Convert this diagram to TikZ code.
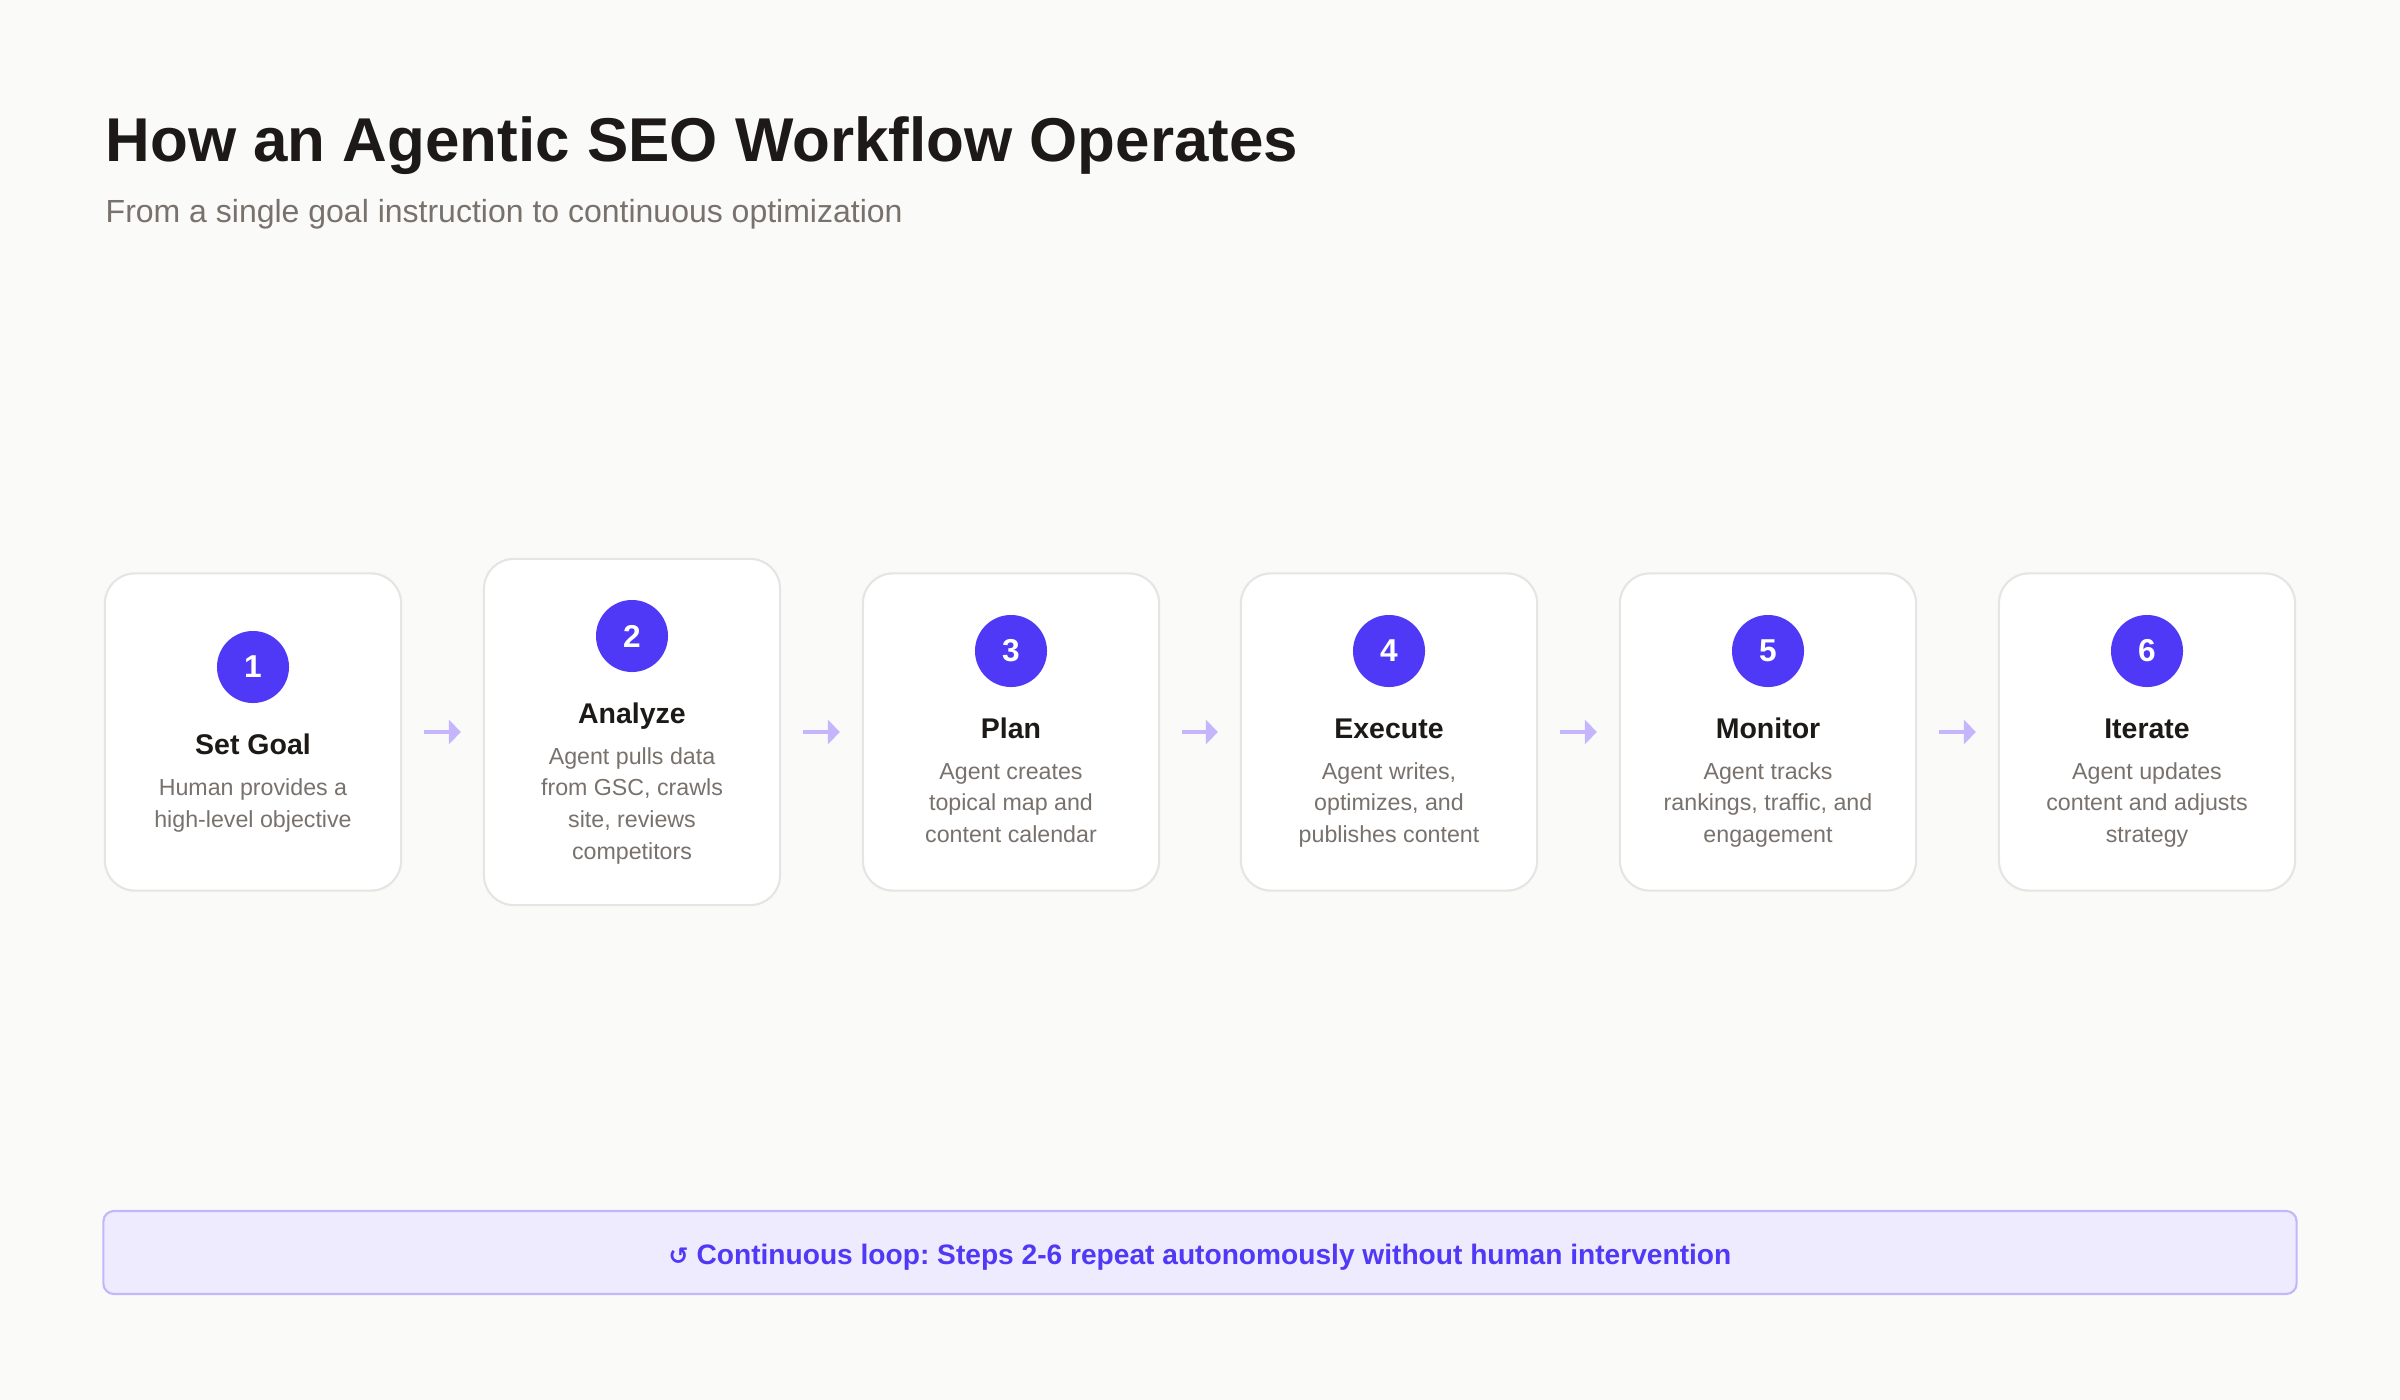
\documentclass[tikz,border=0pt]{standalone}
\usepackage{fontspec}
\setmainfont{Liberation Sans}
\newfontfamily\symfont{DejaVu Sans}
\usetikzlibrary{arrows.meta}
\frenchspacing

\definecolor{bgcolor}{HTML}{FAFAF9}
\definecolor{boxline}{HTML}{E7E5E4}
\definecolor{indigo}{HTML}{4F39F6}
\definecolor{darktext}{HTML}{1C1917}
\definecolor{greytext}{HTML}{78716C}
\definecolor{arrowcol}{HTML}{C4B5FD}
\definecolor{loopfill}{HTML}{EEEBFE}

\begin{document}
\begin{tikzpicture}[x=0.01cm, y=-0.01cm,
  stepbox/.style={draw=boxline, line width=0.6pt, fill=white, rounded corners=8.5pt,
    minimum width=2.96cm, inner sep=0pt},
  stepnum/.style={circle, fill=indigo, text=white, minimum size=0.72cm, inner sep=0pt,
    font=\fontsize{9}{9}\selectfont\bfseries},
  steptitle/.style={anchor=base, text=darktext, font=\fontsize{8.1}{9}\selectfont\bfseries},
  stepdesc/.style={anchor=base, align=center, text=greytext, inner sep=0pt,
    font=\fontsize{6.6}{9}\selectfont},
  flow/.style={draw=arrowcol, line width=1.15pt, shorten <=0.22cm, shorten >=0.22cm,
    -{Triangle[length=3.4pt, width=6.8pt]}}]
  % Parameters
  \def\midy{732}      % Middle line of the steps
  \def\boxht{3.17cm}  % Usual box height
  % Canvas
  \useasboundingbox (0,0) rectangle (2400,1400);
  \fill[bgcolor] (0,0) rectangle (2400,1400);
  % Heading
  \node[anchor=base west, inner sep=0pt, text=darktext, font=\fontsize{17.6}{20}\selectfont\bfseries]
    (heading) at (105,162) {How an Agentic SEO Workflow Operates};
  \node[anchor=base west, inner sep=0pt, text=greytext, font=\fontsize{9.1}{11}\selectfont]
    (subheading) at (105,222) {From a single goal instruction to continuous optimization};
  % Step 1 (desc is anchored at its last line)
  \node[stepbox, minimum height=\boxht] (box1) at (253,\midy) {};
  \node[stepnum] (num1) at (253,667) {1};
  \node[steptitle] (title1) at (253,754) {Set Goal};
  \node[stepdesc] (desc1) at (253,827) {Human provides a\\high-level objective};
  % Step 2
  \node[stepbox, minimum height=3.46cm] (box2) at (632,\midy) {};
  \node[stepnum] (num2) at (632,636) {2};
  \node[steptitle] (title2) at (632,723) {Analyze};
  \node[stepdesc] (desc2) at (632,859) {Agent pulls data\\from GSC, crawls\\site, reviews\\competitors};
  % Step 3
  \node[stepbox, minimum height=\boxht] (box3) at (1011,\midy) {};
  \node[stepnum] (num3) at (1011,651) {3};
  \node[steptitle] (title3) at (1011,738) {Plan};
  \node[stepdesc] (desc3) at (1011,842.5) {Agent creates\\topical map and\\content calendar};
  % Step 4
  \node[stepbox, minimum height=\boxht] (box4) at (1389,\midy) {};
  \node[stepnum] (num4) at (1389,651) {4};
  \node[steptitle] (title4) at (1389,738) {Execute};
  \node[stepdesc] (desc4) at (1389,842.5) {Agent writes,\\optimizes, and\\publishes content};
  % Step 5
  \node[stepbox, minimum height=\boxht] (box5) at (1768,\midy) {};
  \node[stepnum] (num5) at (1768,651) {5};
  \node[steptitle] (title5) at (1768,738) {Monitor};
  \node[stepdesc] (desc5) at (1768,842.5) {Agent tracks\\rankings, traffic, and\\engagement};
  % Step 6
  \node[stepbox, minimum height=\boxht] (box6) at (2147,\midy) {};
  \node[stepnum] (num6) at (2147,651) {6};
  \node[steptitle] (title6) at (2147,738) {Iterate};
  \node[stepdesc] (desc6) at (2147,842.5) {Agent updates\\content and adjusts\\strategy};
  % Arrows between steps
  \draw[flow] (box1) -- (box2);
  \draw[flow] (box2) -- (box3);
  \draw[flow] (box3) -- (box4);
  \draw[flow] (box4) -- (box5);
  \draw[flow] (box5) -- (box6);
  % Loop note
  \node[draw=arrowcol, fill=loopfill, line width=0.6pt, rounded corners=3pt,
    minimum width=21.92cm, minimum height=0.83cm] (loop) at (1200,1252.5) {};
  \node[anchor=base, text=indigo, font=\fontsize{8}{9}\selectfont\bfseries]
    (looptext) at (1200,1264) {{\symfont\fontsize{6.8}{9}\selectfont ↺} Continuous loop: Steps 2-6 repeat autonomously without human intervention};
\end{tikzpicture}
\end{document}
